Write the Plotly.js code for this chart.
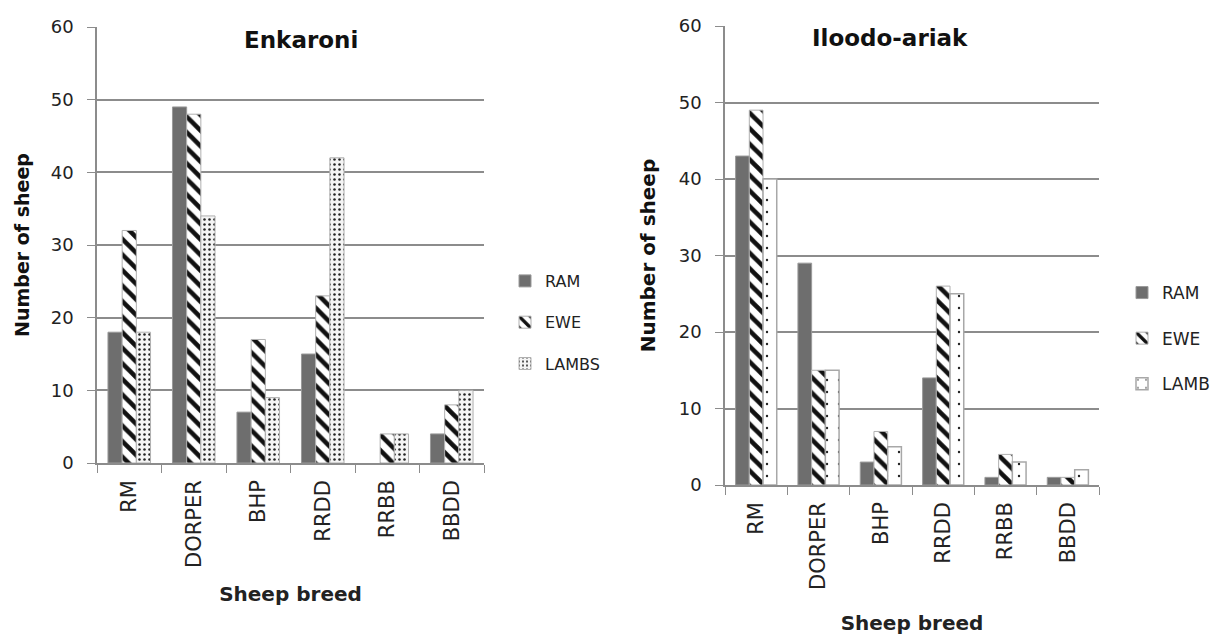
<!DOCTYPE html>
<html>
<head>
<meta charset="utf-8">
<script src="https://cdn.plot.ly/plotly-3.0.1.min.js"></script>
<style>
  html, body { margin: 0; padding: 0; background: #ffffff; }
  #chart { width: 1216px; height: 635px; }
</style>
</head>
<body>
<div id="chart"></div>
<script>
// Sheep counts by breed and class at two sites
const breeds = ["RM", "DORPER", "BHP", "RRDD", "RRBB", "BBDD"];

const enkaroniRam   = [18, 49, 7, 15, 0, 4];
const enkaroniEwe   = [32, 48, 17, 23, 4, 8];
const enkaroniLambs = [18, 34, 9, 42, 4, 10];

const iloodoRam  = [43, 29, 3, 14, 1, 1];
const iloodoEwe  = [49, 15, 7, 26, 4, 1];
const iloodoLamb = [40, 15, 5, 25, 3, 2];

const FONT = "DejaVu Sans, Verdana, sans-serif";
const AXIS_GREY = "#8c8c8c";

// empty bars get no outline so nothing shows on the baseline
const outlineWidths = (values, w) => values.map(v => (v === 0 ? 0 : w));

function ramMarker(values) {
  return { color: "#6e6e6e", line: { color: "#9a9a9a", width: outlineWidths(values, 1) } };
}
function eweMarker(values) {
  return {
    color: "#ffffff",
    pattern: { shape: "\\", fgcolor: "#111111", bgcolor: "#ffffff", size: 11, solidity: 0.42 },
    line: { color: "#b0b0b0", width: outlineWidths(values, 1) }
  };
}
function lambsMarker(values) {
  return {
    color: "#ffffff",
    pattern: { shape: ".", fgcolor: "#222222", bgcolor: "#f4f4f4", size: 5, solidity: 0.2 },
    line: { color: "#b0b0b0", width: outlineWidths(values, 1) }
  };
}
function lambMarker(values) {
  return {
    color: "#ffffff",
    pattern: { shape: ".", fgcolor: "#222222", bgcolor: "#ffffff", size: 12, solidity: 0.03 },
    line: { color: "#a8a8a8", width: outlineWidths(values, 1.5) }
  };
}

function barTrace(name, values, marker, xa, ya, legend, group) {
  return {
    type: "bar", name: name, x: breeds, y: values,
    xaxis: xa, yaxis: ya, marker: marker(values),
    legend: legend, legendgroup: group,
    hoverinfo: "x+y+name"
  };
}

const traces = [
  barTrace("RAM",   enkaroniRam,   ramMarker,   "x",  "y",  "legend",  "a1"),
  barTrace("EWE",   enkaroniEwe,   eweMarker,   "x",  "y",  "legend",  "a2"),
  barTrace("LAMBS", enkaroniLambs, lambsMarker, "x",  "y",  "legend",  "a3"),
  barTrace("RAM",   iloodoRam,     ramMarker,   "x2", "y2", "legend2", "b1"),
  barTrace("EWE",   iloodoEwe,     eweMarker,   "x2", "y2", "legend2", "b2"),
  barTrace("LAMB",  iloodoLamb,    lambMarker,  "x2", "y2", "legend2", "b3")
];

const W = 1216, H = 635;
const px = v => v / W;
const py = v => 1 - v / H;

function xAxis(domain, anchor, standoff) {
  return {
    domain: domain, anchor: anchor, type: "category",
    tickson: "boundaries", ticks: "outside", ticklen: 8, tickcolor: AXIS_GREY,
    showline: true, linecolor: AXIS_GREY, linewidth: 1.5,
    showgrid: false, tickangle: -90, ticklabelstandoff: 7,
    tickfont: { family: FONT, size: 21, color: "#222222" },
    title: { text: "Sheep breed", font: { family: FONT, size: 20, color: "#222222", weight: "bold" }, standoff: standoff },
    automargin: false, fixedrange: true
  };
}
function yAxis(domain, anchor, titleSize, standoff) {
  return {
    domain: domain, anchor: anchor, range: [0, 60], dtick: 10,
    showgrid: true, gridcolor: AXIS_GREY, gridwidth: 1.5,
    zeroline: false, showline: true, linecolor: AXIS_GREY, linewidth: 1.5,
    ticks: "outside", ticklen: 8, tickcolor: AXIS_GREY, ticklabelstandoff: 10,
    tickfont: { family: FONT, size: 18, color: "#222222" },
    title: { text: "Number of sheep", font: { family: FONT, size: titleSize, color: "#111111", weight: "bold" }, standoff: standoff },
    automargin: false, fixedrange: true
  };
}

const layout = {
  width: W, height: H,
  margin: { l: 0, r: 0, t: 0, b: 0 },
  paper_bgcolor: "#ffffff", plot_bgcolor: "#ffffff",
  barmode: "group", bargap: 0.34, bargroupgap: 0,
  showlegend: true,
  xaxis:  xAxis([px(97), px(484)], "y", 20),
  yaxis:  yAxis([py(463), py(27)], "x", 19, 16),
  xaxis2: xAxis([px(725), px(1099)], "y2", 29),
  yaxis2: yAxis([py(485), py(26)], "x2", 20, 18),
  legend: {
    x: px(505), y: py(264), xanchor: "left", yanchor: "top",
    traceorder: "grouped", tracegroupgap: 17.5,
    font: { family: FONT, size: 16, color: "#222222" },
    bgcolor: "rgba(0,0,0,0)", itemclick: false, itemdoubleclick: false
  },
  legend2: {
    x: px(1122), y: py(275), xanchor: "left", yanchor: "top",
    traceorder: "grouped", tracegroupgap: 20.5,
    font: { family: FONT, size: 17, color: "#222222" },
    bgcolor: "rgba(0,0,0,0)", itemclick: false, itemdoubleclick: false
  },
  annotations: [
    { text: "Enkaroni", x: px(301), y: py(40), xref: "paper", yref: "paper",
      xanchor: "center", yanchor: "middle", showarrow: false,
      font: { family: FONT, size: 23, color: "#111111", weight: "bold" } },
    { text: "Iloodo-ariak", x: px(890), y: py(38), xref: "paper", yref: "paper",
      xanchor: "center", yanchor: "middle", showarrow: false,
      font: { family: FONT, size: 23, color: "#111111", weight: "bold" } }
  ]
};

Plotly.newPlot("chart", traces, layout, { displayModeBar: false });
</script>
</body>
</html>
